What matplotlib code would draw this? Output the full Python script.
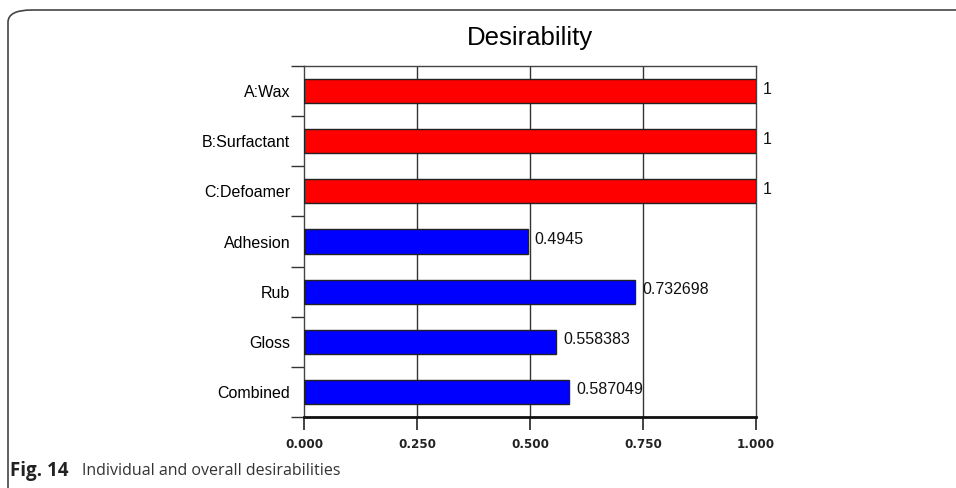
import matplotlib.pyplot as plt
from matplotlib.patches import FancyBboxPatch
import numpy as np

# data
categories = ['A:Wax', 'B:Surfactant', 'C:Defoamer', 'Adhesion', 'Rub', 'Gloss', 'Combined']
values = [1, 1, 1, 0.4945, 0.732698, 0.558383, 0.587049]
value_labels = ['1', '1', '1', '0.4945', '0.732698', '0.558383', '0.587049']
bar_colors = ['#ff0000', '#ff0000', '#ff0000', '#0000ff', '#0000ff', '#0000ff', '#0000ff']
x_ticks = [0.0, 0.25, 0.5, 0.75, 1.0]
x_tick_labels = ['0.000', '0.250', '0.500', '0.750', '1.000']

fig = plt.figure(figsize=(9.56, 4.88), dpi=100)

# rounded frame around the figure panel
frame = FancyBboxPatch((8 / 956, -0.1), 1.2, 1 - 10 / 488 + 0.1,
                       boxstyle='round,pad=0,rounding_size=0.025',
                       transform=fig.transFigure, fill=False,
                       edgecolor='#444444', linewidth=1.2)
fig.patches.append(frame)

ax = fig.add_axes([304 / 956, 1 - 417 / 488, (756 - 304) / 956, (417 - 66) / 488])

y = np.arange(len(categories))
ax.barh(y, values, height=0.48, color=bar_colors, edgecolor='#222222',
        linewidth=1.0, zorder=3)

for i, (v, lab) in enumerate(zip(values, value_labels)):
    ax.text(v + 0.015, i - 0.04, lab, va='center', ha='left', fontsize=11.5,
            family='Liberation Sans', color='#111111')

ax.set_xlim(0, 1)
ax.set_ylim(len(categories) - 0.5, -0.5)

# vertical grid lines
for xv in x_ticks[1:-1]:
    ax.axvline(xv, color='#333333', linewidth=1.0, zorder=1)

# y axis: boundary ticks, labels at centers
ax.set_yticks(np.arange(-0.5, len(categories), 1.0))
ax.set_yticklabels([])
ax.set_yticks(y, minor=True)
ax.set_yticklabels(categories, minor=True, fontsize=11.5, family='Liberation Sans')
ax.tick_params(axis='y', which='major', length=9.5, width=1.0, color='#333333')
ax.tick_params(axis='y', which='minor', length=0, pad=10)

ax.set_xticks(x_ticks)
ax.set_xticklabels(x_tick_labels, fontsize=9.5, family='DejaVu Sans',
                   fontweight='semibold', stretch='condensed', color='#222222')
ax.tick_params(axis='x', length=9, width=1.2, color='#222222', pad=6)

for s in ['top', 'right', 'left']:
    ax.spines[s].set_color('#444444')
    ax.spines[s].set_linewidth(1.0)
ax.spines['bottom'].set_color('#111111')
ax.spines['bottom'].set_linewidth(2.0)

fig.text(530 / 956, 1 - 38 / 488, 'Desirability', ha='center', va='center',
         fontsize=18.5, family='Liberation Sans')

# caption
fig.text(10 / 956, 1 - 471 / 488, 'Fig. 14', ha='left', va='center',
         fontsize=13.5, family='Open Sans', fontweight='bold', color='#222222')
fig.text(82 / 956, 1 - 471 / 488, 'Individual and overall desirabilities', ha='left',
         va='center', fontsize=11.5, family='Open Sans', color='#333333')

fig.savefig('out.png', dpi=100)
